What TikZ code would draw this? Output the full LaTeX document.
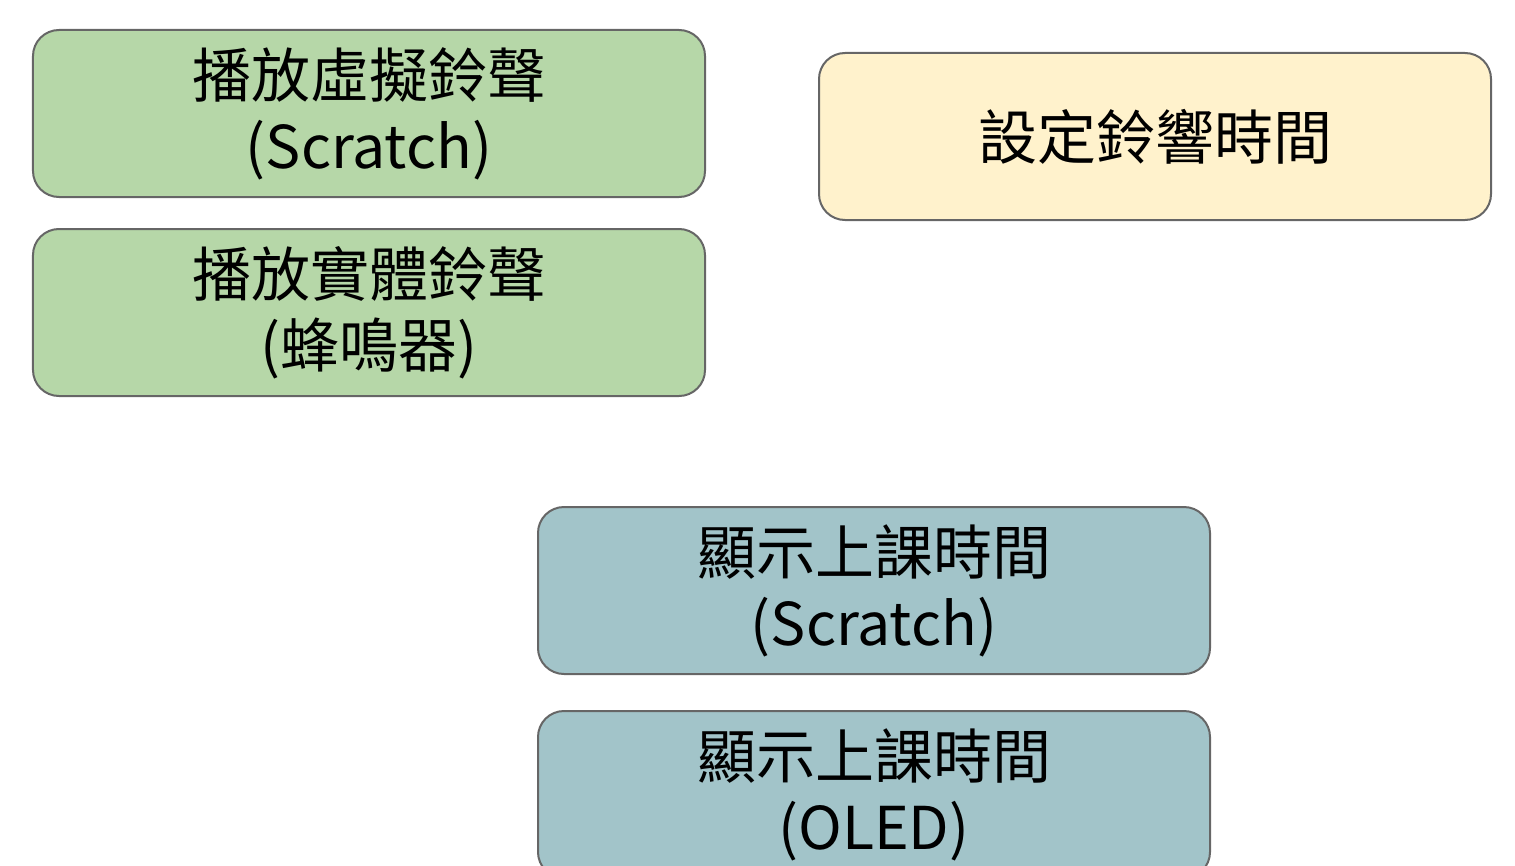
\documentclass[tikz,border=0pt]{standalone}
\usepackage{fontspec}
\setmainfont{Noto Sans CJK TC}
\definecolor{boxgreen}{HTML}{B6D7A8}
\definecolor{boxyellow}{HTML}{FFF2CC}
\definecolor{boxblue}{HTML}{A2C4C9}
\definecolor{boxline}{HTML}{666666}
\tikzset{
  card/.style={draw=boxline, line width=2bp, rounded corners=26bp,
    minimum width=672bp, minimum height=167bp, inner sep=0pt,
    align=center, font=\fontsize{59bp}{71bp}\selectfont, text=black}
}
\begin{document}
\begin{tikzpicture}[x=1bp,y=-1bp]
\useasboundingbox (0,0) rectangle (1515,865);
\clip (0,0) rectangle (1515,865);
\node[card, fill=boxgreen] (virt) at (369,113.5) {播放虛擬鈴聲\\(Scratch)};
\node[card, fill=boxgreen] (phys) at (369,312.5) {播放實體鈴聲\\(蜂鳴器)};
\node[card, fill=boxyellow] (set) at (1155,136.5) {設定鈴響時間};
\node[card, fill=boxblue] (showS) at (874,590.5) {顯示上課時間\\(Scratch)};
\node[card, fill=boxblue] (showO) at (874,794.5) {顯示上課時間\\(OLED)};
\end{tikzpicture}
\end{document}
